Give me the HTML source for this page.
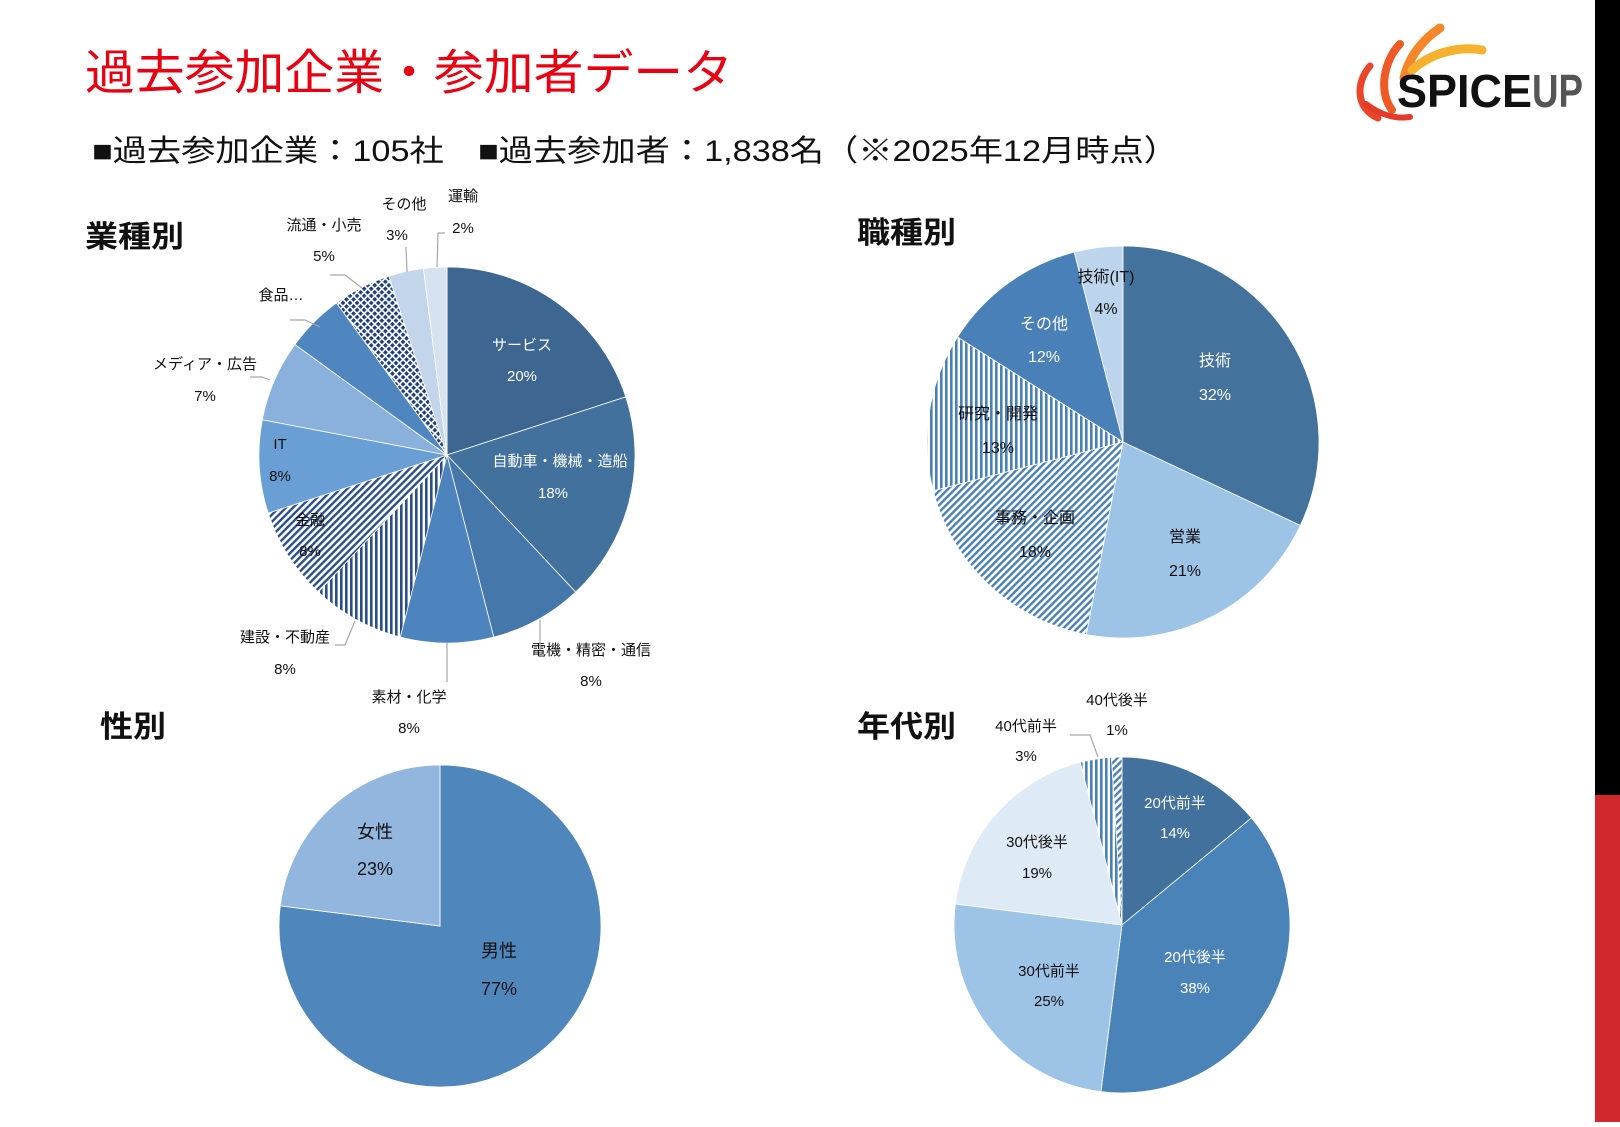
<!DOCTYPE html>
<html><head><meta charset="utf-8">
<style>
html,body{margin:0;padding:0;background:#fff;}
body{width:1620px;height:1122px;overflow:hidden;position:relative;font-family:"Liberation Sans","Noto Sans CJK JP",sans-serif;}
svg text{font-family:"Liberation Sans","Noto Sans CJK JP",sans-serif;}
</style></head>
<body>
<svg id="chart" width="1620" height="1122" viewBox="0 0 1620 1122" xmlns="http://www.w3.org/2000/svg">
<defs>
<pattern id="pv" width="5" height="5" patternUnits="userSpaceOnUse"><rect width="5" height="5" fill="#fff"/><rect width="2.6" height="5" fill="#2c4f8c"/></pattern>
<pattern id="pd" width="5" height="5" patternUnits="userSpaceOnUse" patternTransform="rotate(45)"><rect width="5" height="5" fill="#fff"/><rect width="2.4" height="5" fill="#2c4f8c"/></pattern>
<pattern id="pc" width="5" height="5" patternUnits="userSpaceOnUse" patternTransform="rotate(45)"><rect width="5" height="5" fill="#fff"/><rect width="3.4" height="3.4" fill="#1f3f7a"/></pattern>
<pattern id="pv2" width="5" height="5" patternUnits="userSpaceOnUse"><rect width="5" height="5" fill="#fff"/><rect width="2.6" height="5" fill="#4a80b8"/></pattern>
<pattern id="pd2" width="5" height="5" patternUnits="userSpaceOnUse" patternTransform="rotate(45)"><rect width="5" height="5" fill="#fff"/><rect width="2.4" height="5" fill="#4a80b8"/></pattern>
</defs>
<rect x="1595" y="0" width="25" height="795" fill="#000"/>
<rect x="1595" y="795" width="25" height="327" fill="#d0282d"/>

<text x="85" y="89" font-size="48" fill="#e60012" textLength="648" lengthAdjust="spacingAndGlyphs">過去参加企業・参加者データ</text>
<text x="92" y="161" font-size="30" fill="#111" textLength="1086" lengthAdjust="spacingAndGlyphs">■過去参加企業：105社　■過去参加者：1,838名（※2025年12月時点）</text>

<g>
<path d="M1378,118 C1355,108 1356,82 1370,66" stroke="#e8452a" stroke-width="7" fill="none" stroke-linecap="round"/>
<path d="M1392,110 C1378,92 1384,60 1400,44" stroke="#ee5a26" stroke-width="8" fill="none" stroke-linecap="round"/>
<path d="M1404,78 C1410,52 1428,36 1440,28" stroke="#f5862a" stroke-width="9" fill="none" stroke-linecap="round"/>
<path d="M1412,70 C1432,52 1460,46 1482,50" stroke="#f6b12e" stroke-width="9" fill="none" stroke-linecap="round"/>
<path d="M1366,104 C1382,116 1396,119 1410,117" stroke="#e33b2a" stroke-width="6" fill="none" stroke-linecap="round"/>
<text x="1397" y="107" font-size="46" font-weight="bold" fill="#111" textLength="135" lengthAdjust="spacingAndGlyphs">SPICE</text>
<text x="1532" y="107" font-size="46" font-weight="bold" fill="#555" textLength="51" lengthAdjust="spacingAndGlyphs">UP</text>
</g>

<text x="85" y="247" font-size="30" font-weight="bold" fill="#111" textLength="99" lengthAdjust="spacingAndGlyphs">業種別</text>
<text x="857" y="243" font-size="30" font-weight="bold" fill="#111" textLength="99" lengthAdjust="spacingAndGlyphs">職種別</text>
<text x="100" y="737" font-size="30" font-weight="bold" fill="#111" textLength="66" lengthAdjust="spacingAndGlyphs">性別</text>
<text x="857" y="737" font-size="30" font-weight="bold" fill="#111" textLength="99" lengthAdjust="spacingAndGlyphs">年代別</text>
<g id="pies"></g>
</svg>
<script>
const industryCats = ["サービス","自動車・機械・造船","電機・精密・通信","素材・化学","建設・不動産","金融","IT","メディア・広告","食品…","流通・小売","その他","運輸"];
const industryVals = [20,18,8,8,8,8,8,7,5,5,3,2];
const jobCats = ["技術","営業","事務・企画","研究・開発","その他","技術(IT)"];
const jobVals = [32,21,18,13,12,4];
const genderCats = ["男性","女性"];
const genderVals = [77,23];
const ageCats = ["20代前半","20代後半","30代前半","30代後半","40代前半","40代後半"];
const ageVals = [14,38,25,19,3,1];

const NS = "http://www.w3.org/2000/svg";
const root = document.getElementById('pies');
function el(tag, attrs){const e=document.createElementNS(NS,tag);for(const k in attrs)e.setAttribute(k,attrs[k]);return e;}
function pt(cx,cy,r,a){return [cx+r*Math.sin(a), cy-r*Math.cos(a)];}
function drawPie(name, cx, cy, r, cats, vals, fills, labelPos, labelColors, fs){
  const g = el('g',{});
  
  
  root.appendChild(g);
  const total = vals.reduce((a,b)=>a+b,0);
  let a0 = 0;
  vals.forEach((v,i)=>{
    const a1 = a0 + v/total*2*Math.PI;
    const p0 = pt(cx,cy,r,a0), p1 = pt(cx,cy,r,a1);
    const large = (a1-a0) > Math.PI ? 1 : 0;
    const path = el('path',{d:`M${cx},${cy} L${p0[0]},${p0[1]} A${r},${r} 0 ${large} 1 ${p1[0]},${p1[1]} Z`, fill:fills[i], stroke:'#fff', 'stroke-width':0.8});
    
    
    g.appendChild(path);
    a0 = a1;
  });
  cats.forEach((c,i)=>{
    const lp = labelPos[i];
    const t1 = el('text',{x:lp[0], y:lp[1], 'font-size':fs, fill:labelColors[i], 'text-anchor':'middle','dominant-baseline':'middle'});
    t1.textContent = c;
    
    
    g.appendChild(t1);
    if (lp.length > 2) {
      const t2 = el('text',{x:lp[2], y:lp[3], 'font-size':fs, fill:labelColors[i], 'text-anchor':'middle','dominant-baseline':'middle'});
      t2.textContent = Math.round(vals[i]/total*100) + '%';
      
      
      g.appendChild(t2);
    }
  });
}
const W='#fff', D='#111';
drawPie('industry-pie',447,455,188,industryCats,industryVals,
 ['#3d6690','#41719c','#4677aa','#4e84bd','url(#pv)','url(#pd)','#6a9fd6','#8ab0dc','#4f86c0','url(#pc)','#c3d5ea','#d6e2f0'],
 [[522,346,522,377],[560,462,553,494],[591,651,591,682],[409,698,409,729],[285,638,285,670],[310,521,310,552],[280,445,280,477],[205,365,205,397],[281,296],[324,226,324,257],[404,205,397,236],[463,197,463,229]],
 [W,W,D,D,D,D,D,D,D,D,D,D],15);
drawPie('job-pie',1123,442,196,jobCats,jobVals,
 ['#43729d','#9dc3e6','url(#pd2)','url(#pv2)','#4a80b8','#bdd5ec'],
 [[1215,362,1215,396],[1185,538,1185,572],[1035,519,1035,553],[998,415,998,449],[1044,325,1044,358],[1106,278,1106,310]],
 [W,D,D,D,W,D],16);
drawPie('gender-pie',440,926,161,genderCats,genderVals,
 ['#4f86bb','#92b6dd'],
 [[499,952,499,990],[375,833,375,870]],
 [D,D],18);
drawPie('age-pie',1122,925,168,ageCats,ageVals,
 ['#41719c','#4a83b8','#9dc3e6','#deebf7','url(#pv2)','url(#pd2)'],
 [[1175,804,1175,834],[1195,958,1195,989],[1049,972,1049,1002],[1037,843,1037,874],[1026,727,1026,757],[1117,701,1117,731]],
 [W,W,D,D,D,D],15);
const leaders = [[[437,267],[438,233],[445,233]],[[407,272],[406,247]],[[362,288],[345,275],[330,275]],[[320,327],[305,320],[290,320]],[[270,380],[262,377],[250,377]],[[355,621],[345,645],[335,645]],[[447,643],[447,682]],[[540,620],[540,650]],[[1098,757],[1090,735],[1070,735]]];
leaders.forEach(l=>{
  const pl = el('polyline',{points:l.map(p=>p.join(',')).join(' '), fill:'none', stroke:'#a6a6a6','stroke-width':1.2});
  
  
  root.appendChild(pl);
});
</script>
</body></html>
